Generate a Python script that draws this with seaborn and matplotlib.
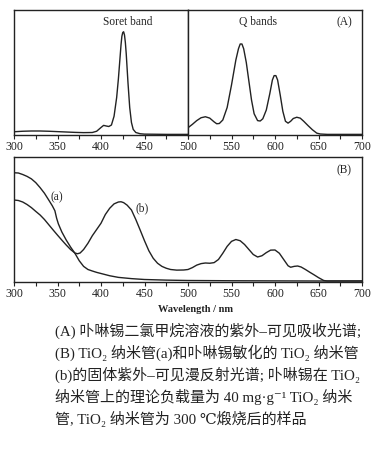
import matplotlib
matplotlib.use("Agg")
import matplotlib.pyplot as plt
import seaborn as sns
from matplotlib.ticker import FixedLocator, FixedFormatter

sns.set_theme(style="ticks")
plt.rcParams["font.family"] = ["Liberation Serif", "DejaVu Serif", "Noto Sans CJK SC"]

# (A) left: Soret band (relative absorbance, fraction of axis height)
soret_nm = [300, 310, 320, 330, 340, 350, 360, 370, 380, 390, 395, 400, 403, 406, 409,
            412, 415, 418, 420, 422, 423, 424, 425, 426, 427, 428, 429, 431, 433, 435,
            437, 440, 445, 450, 475, 500]
soret_abs = [0.026, 0.030, 0.032, 0.032, 0.030, 0.027, 0.024, 0.021, 0.019, 0.020, 0.030,
             0.060, 0.077, 0.072, 0.068, 0.080, 0.15, 0.30, 0.45, 0.63, 0.72, 0.79, 0.82,
             0.826, 0.80, 0.74, 0.65, 0.42, 0.22, 0.10, 0.045, 0.02, 0.01, 0.007, 0.005,
             0.005]

# (A) right: Q bands
q_nm = [500, 505, 510, 515, 520, 525, 530, 533, 536, 540, 545, 550, 555, 558, 560, 562,
        564, 567, 570, 573, 576, 580, 583, 586, 590, 594, 597, 599, 601, 603, 606, 609,
        612, 615, 618, 621, 625, 629, 633, 638, 643, 648, 652, 660, 700]
q_abs = [0.058, 0.085, 0.115, 0.138, 0.146, 0.135, 0.105, 0.090, 0.092, 0.12, 0.22, 0.40,
         0.60, 0.69, 0.728, 0.728, 0.69, 0.58, 0.43, 0.28, 0.17, 0.115, 0.112, 0.13, 0.20,
         0.33, 0.44, 0.475, 0.475, 0.44, 0.32, 0.19, 0.11, 0.095, 0.11, 0.132, 0.142,
         0.135, 0.11, 0.075, 0.042, 0.015, 0.008, 0.005, 0.005]

# (B) curve (a): TiO2 nanotubes
a_nm = [300, 305, 310, 315, 320, 325, 330, 335, 340, 344, 347, 349, 351, 355, 360, 365,
        370, 375, 380, 385, 390, 395, 400, 410, 420, 435, 450, 475, 500, 550, 600, 650, 700]
a_abs = [0.874, 0.872, 0.86, 0.845, 0.825, 0.795, 0.755, 0.71, 0.655, 0.61, 0.57, 0.51,
         0.465, 0.40, 0.336, 0.28, 0.23, 0.17, 0.125, 0.10, 0.088, 0.077, 0.068, 0.05,
         0.037, 0.027, 0.02, 0.015, 0.012, 0.01, 0.009, 0.008, 0.008]

# (B) curve (b): porphyrin-tin sensitized TiO2 nanotubes
b_nm = [300, 305, 310, 315, 320, 325, 330, 335, 340, 345, 350, 355, 360, 365, 370, 373,
        376, 380, 385, 390, 395, 400, 405, 410, 415, 420, 423, 426, 430, 435, 440, 445,
        450, 455, 460, 465, 470, 475, 480, 487, 495, 500, 505, 510, 515, 520, 525, 530,
        535, 540, 545, 550, 555, 560, 565, 570, 575, 580, 585, 590, 595, 600, 605, 610,
        615, 618, 622, 626, 630, 635, 640, 645, 650, 656, 660, 700]
b_abs = [0.656, 0.652, 0.64, 0.62, 0.595, 0.565, 0.536, 0.50, 0.458, 0.416, 0.375, 0.335,
         0.296, 0.26, 0.232, 0.226, 0.232, 0.26, 0.31, 0.37, 0.42, 0.47, 0.54, 0.59, 0.625,
         0.64, 0.642, 0.635, 0.615, 0.576, 0.50, 0.416, 0.33, 0.25, 0.19, 0.15, 0.125,
         0.11, 0.10, 0.095, 0.096, 0.10, 0.115, 0.135, 0.147, 0.152, 0.150, 0.155, 0.18,
         0.23, 0.285, 0.325, 0.34, 0.33, 0.30, 0.26, 0.22, 0.20, 0.21, 0.235, 0.255, 0.256,
         0.23, 0.18, 0.13, 0.118, 0.125, 0.128, 0.12, 0.10, 0.078, 0.057, 0.035, 0.012,
         0.008, 0.008]

tick_major = [300, 350, 400, 450, 500, 550, 600, 650, 700]
caption = [
    "(A) 卟啉锡二氯甲烷溶液的紫外–可见吸收光谱;",
    "(B) TiO₂ 纳米管(a)和卟啉锡敏化的 TiO₂ 纳米管",
    "(b)的固体紫外–可见漫反射光谱; 卟啉锡在 TiO₂",
    "纳米管上的理论负载量为 40 mg·g⁻¹ TiO₂ 纳米",
    "管, TiO₂ 纳米管为 300 ℃煅烧后的样品",
]

W, H = 392, 453
ink = "#222222"
fig = plt.figure(figsize=(W / 100, H / 100), dpi=100)


def box(x0, y0, x1, y1):
    return fig.add_axes([x0 / W, 1 - y1 / H, (x1 - x0) / W, (y1 - y0) / H])


ax_l = box(14, 10, 188, 135)
ax_r = box(188, 10, 362, 135)
ax_b = box(14, 157, 362, 282)

sns.lineplot(x=soret_nm, y=soret_abs, ax=ax_l, color=ink, linewidth=1.0)
sns.lineplot(x=q_nm, y=q_abs, ax=ax_r, color=ink, linewidth=1.0)
sns.lineplot(x=a_nm, y=a_abs, ax=ax_b, color=ink, linewidth=1.0)
sns.lineplot(x=b_nm, y=b_abs, ax=ax_b, color=ink, linewidth=1.0)

for ax, lo, hi in [(ax_l, 300, 500), (ax_r, 500, 700), (ax_b, 300, 700)]:
    ax.set_xlim(lo, hi)
    ax.set_ylim(0, 1)
    ax.set_yticks([])
    ax.set_xlabel("")
    ax.set_ylabel("")
    major = [t for t in tick_major if lo <= t <= hi]
    labels = [str(t) for t in major]
    if ax is ax_r:
        labels[0] = ""
    ax.xaxis.set_major_locator(FixedLocator(major))
    ax.xaxis.set_major_formatter(FixedFormatter(labels))
    ax.xaxis.set_minor_locator(FixedLocator([t + 25 for t in major[:-1]]))
    ax.tick_params(axis="x", which="both", direction="out", length=3, width=0.8,
                   color=ink, pad=1.5, labelsize=8.5, labelcolor=ink)
    for s in ax.spines.values():
        s.set_color(ink)
        s.set_linewidth(1.0)

ax_l.text(0.655, 0.90, "Soret band", transform=ax_l.transAxes, ha="center", va="center",
          fontsize=8.3, color=ink)
ax_r.text(0.40, 0.90, "Q bands", transform=ax_r.transAxes, ha="center", va="center",
          fontsize=8.3, color=ink)
ax_r.text(0.90, 0.90, "(A)", transform=ax_r.transAxes, ha="center", va="center",
          fontsize=8.3, color=ink)
ax_b.text(0.948, 0.896, "(B)", transform=ax_b.transAxes, ha="center", va="center",
          fontsize=8.3, color=ink)
ax_b.text(349, 0.68, "(a)", ha="center", va="center", fontsize=8.3, color=ink)
ax_b.text(447, 0.59, "(b)", ha="center", va="center", fontsize=8.3, color=ink)

fig.text(196 / W, 1 - 310 / H, "Wavelength / nm", ha="center", va="center",
         fontsize=7.5, fontweight="bold", color=ink)

for i, line in enumerate(caption):
    fig.text(55 / W, 1 - (331 + 22 * i) / H, line, ha="left", va="center",
             fontsize=10.8, color=ink)

fig.savefig("out.png", dpi=100)
